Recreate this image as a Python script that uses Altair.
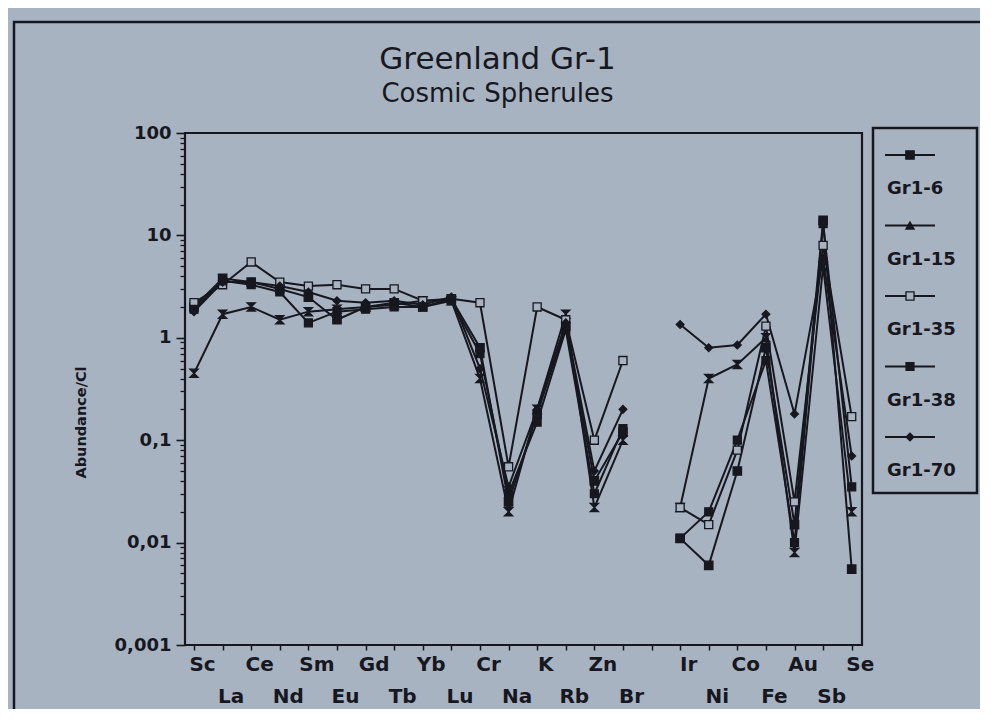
import altair as alt
import pandas as pd

# ---------------- data ----------------
categories = ["Sc", "La", "Ce", "Nd", "Sm", "Eu", "Gd", "Tb", "Yb", "Lu", "Cr", "Na",
              "K", "Rb", "Zn", "Br", "Ir", "Ni", "Co", "Fe", "Au", "Sb", "Se"]
series_names = ["Gr1-6", "Gr1-15", "Gr1-35", "Gr1-38", "Gr1-70"]

gr1_6 = [2.0, 3.8, 3.5, 3.0, 2.5, 1.5, 2.0, 2.2, 2.0, 2.4, 0.8, 0.025,
         0.18, 1.3, 0.04, 0.12, 0.011, 0.006, 0.05, 0.8, 0.015, 14.0, 0.0055]
gr1_15 = [0.45, 1.7, 2.0, 1.5, 1.8, 1.9, 2.0, 2.1, 2.3, 2.3, 0.4, 0.02,
          0.2, 1.7, 0.022, 0.1, 0.022, 0.4, 0.55, 1.0, 0.008, 5.0, 0.02]
gr1_35 = [2.2, 3.3, 5.5, 3.5, 3.2, 3.3, 3.0, 3.0, 2.3, 2.4, 2.2, 0.055,
          2.0, 1.5, 0.1, 0.6, 0.022, 0.015, 0.08, 1.3, 0.025, 8.0, 0.17]
gr1_38 = [1.9, 3.6, 3.3, 2.8, 1.4, 1.8, 1.9, 2.0, 2.0, 2.3, 0.7, 0.03,
          0.15, 1.2, 0.03, 0.13, 0.011, 0.02, 0.1, 0.6, 0.01, 13.0, 0.035]
gr1_70 = [1.8, 3.5, 3.5, 3.2, 2.8, 2.3, 2.2, 2.3, 2.1, 2.5, 0.5, 0.035,
          0.2, 1.4, 0.05, 0.2, 1.35, 0.8, 0.85, 1.7, 0.18, 6.0, 0.07]
all_series = [gr1_6, gr1_15, gr1_35, gr1_38, gr1_70]

y_tick_values = [0.001, 0.01, 0.1, 1, 10, 100]
y_tick_labels = ["0,001", "0,01", "0,1", "1", "10", "100"]

# ---------------- styling ----------------
INK = "#17181f"
BG = "#a8b3c1"
FONT = "DejaVu Sans"
N_SLOTS = 24          # 23 elements + one empty slot between Br and Ir
GAP_AFTER = 16        # index of first element after the gap (Ir)

slots = [i if i < GAP_AFTER else i + 1 for i in range(len(categories))]

rows = []
for name, vals in zip(series_names, all_series):
    for i, (c, v) in enumerate(zip(categories, vals)):
        rows.append({"series": name, "element": c, "slot": slots[i], "value": v,
                     "seg": "a" if i < GAP_AFTER else "b"})
df = pd.DataFrame(rows)

legend_df = pd.DataFrame({"series": series_names, "li": list(range(len(series_names)))})
one = pd.DataFrame({"k": [0]})

# two-row x labels (alternating)
items = []
for s in range(N_SLOTS):
    if s in slots:
        i = slots.index(s)
        nm = categories[i]
        items.append("'%s'" % nm if i % 2 == 0 else "['', '%s']" % nm)
    else:
        items.append("''")
x_label_expr = "[" + ",".join(items) + "][round(datum.value)]"
y_label_expr = "[" + ",".join("'%s'" % t for t in y_tick_labels) + "][round(log(datum.value)/LN10)+3]"
minor_vals = [m * 10 ** e for e in range(-3, 2) for m in range(2, 10)]

xscale = alt.Scale(domain=[-0.315, 23.36], nice=False, zero=False)
xaxis = alt.Axis(values=list(range(N_SLOTS)), labelExpr=x_label_expr, title=None, grid=False,
                 domain=False, tickSize=5, tickColor=INK, tickWidth=1.5,
                 labelFont=FONT, labelFontSize=20, labelFontWeight="bold", labelColor=INK,
                 labelBaseline="top", labelLineHeight=32, labelPadding=4, labelOffset=8,
                 labelFlush=False, labelOverlap=False, labelBound=False)
xenc = alt.X("slot:Q", scale=xscale, axis=xaxis)

yscale = alt.Scale(type="log", domain=[0.001, 100], nice=False)
yaxis_major = alt.Axis(values=y_tick_values, labelExpr=y_label_expr, orient="left",
                       title="Abundance/Cl", titleX=-104, titleY=289, titleAngle=270,
                       titleAlign="center", titleBaseline="middle",
                       titleFont=FONT, titleFontSize=14.5, titleFontWeight="bold", titleColor=INK,
                       grid=False, domain=False, tickSize=9, tickColor=INK, tickWidth=1.6,
                       labelFont=FONT, labelFontSize=18, labelFontWeight="bold", labelColor=INK,
                       labelPadding=5, labelFlush=False, labelOverlap=False)
yaxis_minor = alt.Axis(values=minor_vals, orient="left", labels=False, title=None, grid=False,
                       domain=False, tickSize=5, tickColor=INK, tickWidth=1.3)

hourglass = "M-1,-1H1L-1,1H1Z"
shape_scale = alt.Scale(domain=series_names, range=["square", hourglass, "square", "square", "diamond"])
fill_scale = alt.Scale(domain=series_names, range=[INK, INK, BG, INK, INK])
size_scale = alt.Scale(domain=series_names, range=[70, 60, 70, 75, 35])

lines = alt.Chart(df).mark_line(color=INK, strokeWidth=2).encode(
    x=xenc,
    y=alt.Y("value:Q", scale=yscale, axis=yaxis_major),
    detail=["series:N", "seg:N"],
)

minor_axis = alt.Chart(df).mark_point(opacity=0).encode(
    x=xenc,
    y=alt.Y("value:Q", scale=yscale, axis=yaxis_minor),
)

points = alt.Chart(df).mark_point(filled=True, stroke=INK, strokeWidth=1.3, opacity=1).encode(
    x=xenc,
    y=alt.Y("value:Q", scale=yscale, axis=None),
    shape=alt.Shape("series:N", scale=shape_scale, legend=None),
    fill=alt.Fill("series:N", scale=fill_scale, legend=None),
    size=alt.Size("series:N", scale=size_scale, legend=None),
)

# outer frame of the figure and legend box (decoration)
frame = alt.Chart(one).mark_rect(fillOpacity=0, stroke=INK, strokeWidth=2.5).encode(
    x=alt.value(-171), x2=alt.value(801), y=alt.value(-111), y2=alt.value(640))
legend_box = alt.Chart(one).mark_rect(fillOpacity=0, stroke=INK, strokeWidth=2.5).encode(
    x=alt.value(688), x2=alt.value(792), y=alt.value(-5), y2=alt.value(360))

ly = alt.Y("li:Q", scale=alt.Scale(domain=[0, 4], range=[22, 304]), axis=None)
leg_rule = alt.Chart(legend_df).mark_rule(color=INK, strokeWidth=2).encode(
    x=alt.value(700), x2=alt.value(750), y=ly)
leg_pts = alt.Chart(legend_df).mark_point(filled=True, stroke=INK, strokeWidth=1.3, opacity=1).encode(
    x=alt.value(725), y=ly,
    shape=alt.Shape("series:N", scale=alt.Scale(domain=series_names,
                    range=["square", "triangle-up", "square", "square", "diamond"]), legend=None),
    fill=alt.Fill("series:N", scale=fill_scale, legend=None),
    size=alt.Size("series:N", scale=size_scale, legend=None),
)
leg_txt = alt.Chart(legend_df).mark_text(align="left", baseline="middle", dy=34, font=FONT,
                                         fontSize=18, fontWeight="bold", color=INK).encode(
    x=alt.value(702), y=ly, text="series:N")

chart = alt.layer(frame, legend_box, minor_axis, lines, points, leg_rule, leg_pts, leg_txt).resolve_scale(
    y="independent", shape="independent"
).properties(
    width=677, height=512,
    autosize=alt.AutoSizeParams(type="none"),
    padding={"left": 177, "top": 125, "right": 118, "bottom": 64},
    title=alt.TitleParams(text="Greenland Gr-1", subtitle="Cosmic Spherules", font=FONT,
                          fontSize=31, fontWeight="normal", subtitleFont=FONT, subtitleFontSize=26,
                          color=INK, subtitleColor=INK, anchor="middle", dx=-26, offset=-87,
                          subtitlePadding=5),
).configure(background=BG).configure_view(stroke=INK, strokeWidth=2.2)

chart.save("out.html", embed_options={"renderer": "svg", "actions": False})
